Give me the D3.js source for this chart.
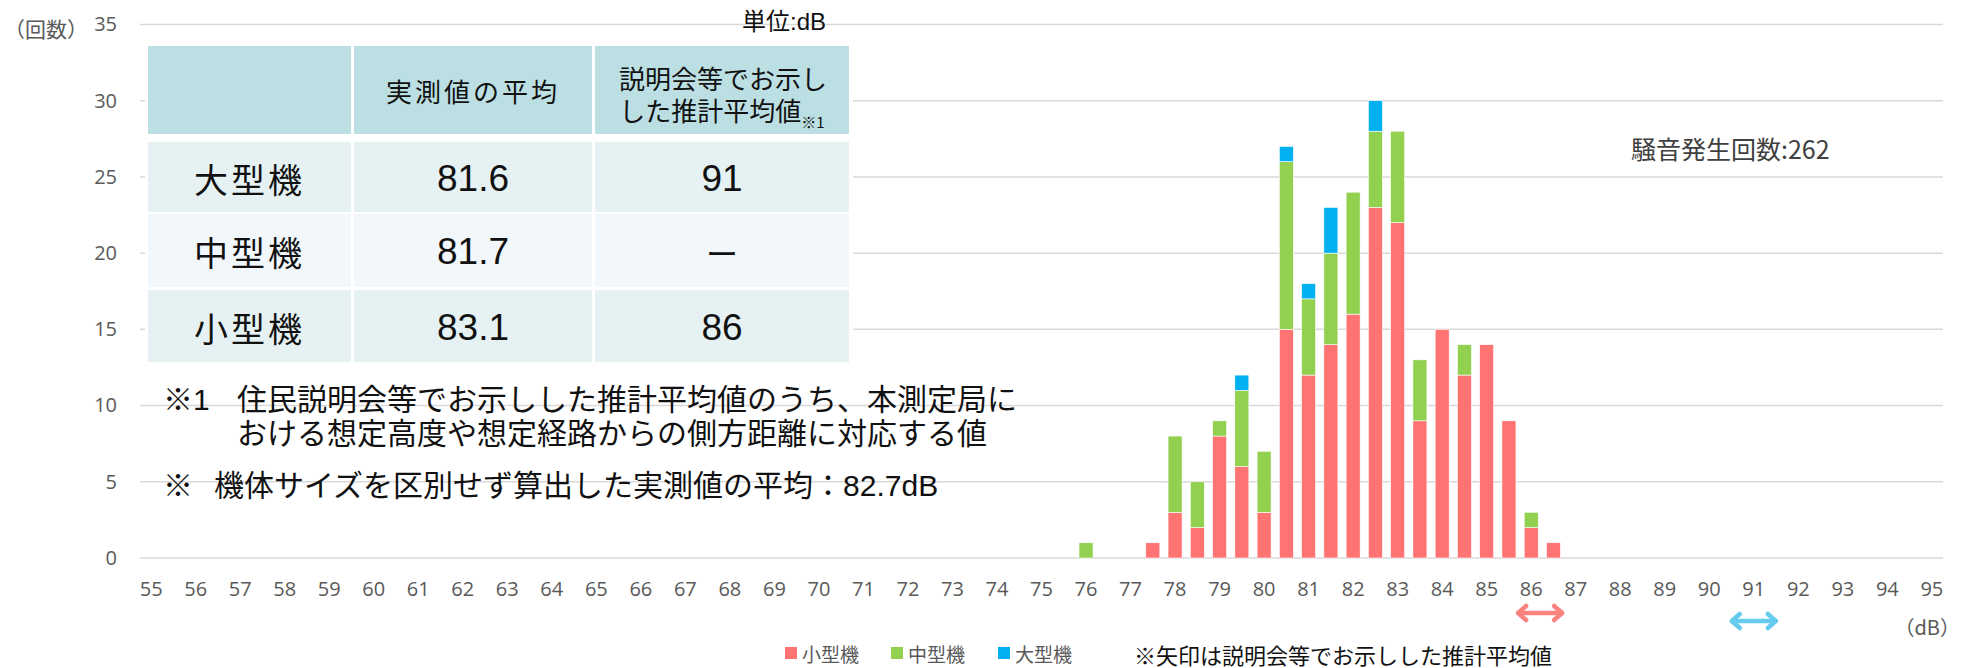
<!DOCTYPE html>
<html>
<head>
<meta charset="utf-8">
<script src="https://cdn.jsdelivr.net/npm/d3@7"></script>
<style>
  body { margin: 0; background: #fff; }
  text { font-family: "Noto Sans CJK JP", "Noto Sans", sans-serif; }
  .note { font-family: "Liberation Sans", "Noto Sans CJK JP", sans-serif; }
</style>
</head>
<body>
<div id="chart"></div>
<script>
// 騒音レベル(dB)の階級 0.5dB 刻み, 値がある範囲のみ
const bins   = [76, 76.5, 77, 77.5, 78, 78.5, 79, 79.5, 80, 80.5, 81, 81.5, 82, 82.5, 83, 83.5, 84, 84.5, 85, 85.5, 86, 86.5]
const small  = [0, 0, 0, 1, 3, 2, 8, 6, 3, 15, 12, 14, 16, 23, 22, 9, 15, 12, 14, 9, 2, 1]
const medium = [1, 0, 0, 0, 5, 3, 1, 5, 4, 11, 5, 6, 8, 5, 6, 4, 0, 2, 0, 0, 1, 0]
const large  = [0, 0, 0, 0, 0, 0, 0, 1, 0, 1, 1, 3, 0, 2, 0, 0, 0, 0, 0, 0, 0, 0]

const seriesNames = ["小型機", "中型機", "大型機"]
const seriesKeys = ["small", "medium", "large"]
const colors = ["#FF7373", "#92D050", "#00B0F0"]

const yTicks = [0, 5, 10, 15, 20, 25, 30, 35]

// table
const tableHeader = ["", "実測値の平均", ["説明会等でお示し", "した推計平均値"]]
const tableRows = ["大型機", "中型機", "小型機"]
const measuredAvg = ["81.6", "81.7", "83.1"]
const estimatedAvg = ["91", "ー", "86"]

// 説明会等でお示しした推計平均値 (矢印)
const arrowValues = [86.2, 91]
const arrowColors = ["#F8837F", "#66CCEE"]

const notes1 = ["住民説明会等でお示しした推計平均値のうち、本測定局に", "おける想定高度や想定経路からの側方距離に対応する値"]
const note2 = "機体サイズを区別せず算出した実測値の平均：82.7dB"
const totalLabel = "騒音発生回数:262"

const width = 1962, height = 668
const plot = {left: 140, right: 1943, top: 24.5, bottom: 558}

const svg = d3.select("#chart").append("svg")
    .attr("width", width).attr("height", height)
    .attr("viewBox", [0, 0, width, height])

// all x categories 55 .. 95 by 0.5
const categories = d3.range(55, 95.01, 0.5)
const data = categories.map(c => {
    const i = bins.indexOf(c)
    return {
        bin: c,
        small: i < 0 ? 0 : small[i],
        medium: i < 0 ? 0 : medium[i],
        large: i < 0 ? 0 : large[i]
    }
})

const x = d3.scaleBand()
    .domain(categories)
    .range([plot.left, plot.right])
    .paddingInner(0.37)
    .paddingOuter(0.185)

const xLin = d3.scaleLinear()
    .domain([55, 95])
    .range([x(55) + x.bandwidth() / 2, x(95) + x.bandwidth() / 2])

const y = d3.scaleLinear().domain([0, 35]).range([plot.bottom, plot.top])

const layer_grid = svg.append("g")
const layer_table = svg.append("g")
const layer_bars = svg.append("g")
const layer_text = svg.append("g")

// gridlines
layer_grid.selectAll("line")
    .data(yTicks)
    .enter()
    .append("line")
    .attr("x1", plot.left).attr("x2", plot.right)
    .attr("y1", d => y(d)).attr("y2", d => y(d))
    .attr("stroke", "#D9D9D9")
    .attr("stroke-width", 1.5)

// y axis
const yAxis = layer_grid.append("g")
    .attr("transform", `translate(${plot.left},0)`)
    .call(d3.axisLeft(y).tickValues(yTicks).tickSize(0).tickPadding(23))
yAxis.select(".domain").remove()
yAxis.selectAll("text")
    .attr("fill", "#595959")
    .style("font-size", "20px")
    .style("font-family", "'Open Sans', sans-serif")

// x axis, labels every whole dB
const xAxis = layer_grid.append("g")
    .attr("transform", `translate(0,${plot.bottom})`)
    .call(d3.axisBottom(x)
        .tickValues(categories.filter(c => Number.isInteger(c)))
        .tickSize(0).tickPadding(24))
xAxis.select(".domain").remove()
xAxis.selectAll("text")
    .attr("fill", "#595959")
    .style("font-size", "20px")
    .style("font-family", "'Open Sans', sans-serif")

layer_grid.append("text")
    .attr("x", 88).attr("y", 28)
    .attr("text-anchor", "end")
    .attr("dominant-baseline", "central")
    .attr("fill", "#595959")
    .style("font-size", "21px")
    .text("（回数）")

layer_grid.append("text")
    .attr("x", 1960).attr("y", 626)
    .attr("text-anchor", "end")
    .attr("dominant-baseline", "central")
    .attr("fill", "#595959")
    .style("font-size", "20px")
    .text("（dB）")

// stacked bars
const stacked = d3.stack().keys(seriesKeys)(data)

layer_bars.selectAll("g")
    .data(stacked)
    .enter()
    .append("g")
    .attr("fill", (d, i) => colors[i])
    .selectAll("rect")
    .data(d => d.filter(s => s[1] > s[0]))
    .enter()
    .append("rect")
    .attr("x", d => x(d.data.bin))
    .attr("width", x.bandwidth())
    .attr("y", d => y(d[1]))
    .attr("height", d => y(d[0]) - y(d[1]))
    .attr("stroke", "#fff")
    .attr("stroke-width", 0.6)

// table
const cols = [{x0: 148, x1: 351}, {x0: 354, x1: 592}, {x0: 595, x1: 849}]
const rowsY = [{y0: 46, y1: 134}, {y0: 142, y1: 212}, {y0: 214, y1: 287}, {y0: 290, y1: 362}]
const rowFill = ["#BBDFE3", "#E5F1F3", "#F1F7FA", "#E5F1F3"]

layer_table.append("rect")
    .attr("x", 145).attr("y", 42)
    .attr("width", 708).attr("height", 324)
    .attr("fill", "#fff")

rowsY.forEach((r, ri) => {
    cols.forEach(c => {
        layer_table.append("rect")
            .attr("x", c.x0).attr("y", r.y0)
            .attr("width", c.x1 - c.x0).attr("height", r.y1 - r.y0)
            .attr("fill", rowFill[ri])
    })
})

const cx = c => (c.x0 + c.x1) / 2
const cy = r => (r.y0 + r.y1) / 2

layer_table.append("text")
    .attr("x", cx(cols[1])).attr("y", cy(rowsY[0]))
    .attr("text-anchor", "middle")
    .attr("dominant-baseline", "central")
    .style("font-size", "26px")
    .style("letter-spacing", "3px")
    .attr("fill", "#111")
    .text(tableHeader[1])

const h3 = layer_table.append("text")
    .attr("text-anchor", "middle")
    .style("font-size", "26px")
    .attr("fill", "#111")
h3.append("tspan")
    .attr("x", cx(cols[2]) + 1).attr("y", 89)
    .text(tableHeader[2][0])
h3.append("tspan")
    .attr("x", cx(cols[2])).attr("y", 121)
    .text(tableHeader[2][1])
h3.append("tspan")
    .attr("dy", 7)
    .style("font-size", "15px")
    .text("※1")

tableRows.forEach((name, i) => {
    const r = rowsY[i + 1]
    layer_table.append("text")
        .attr("x", cx(cols[0])).attr("y", cy(r) + 1)
        .attr("text-anchor", "middle")
        .attr("dominant-baseline", "central")
        .style("font-size", "34px")
        .style("letter-spacing", "3px")
        .attr("fill", "#111")
        .text(name)
    layer_table.append("text")
        .attr("x", cx(cols[1])).attr("y", cy(r) + 1)
        .attr("text-anchor", "middle")
        .attr("dominant-baseline", "central")
        .style("font-size", "37px")
        .style("font-family", "'Liberation Sans', Arial, sans-serif")
        .attr("fill", "#111")
        .text(measuredAvg[i])
    layer_table.append("text")
        .attr("x", cx(cols[2])).attr("y", cy(r) + 1)
        .attr("text-anchor", "middle")
        .attr("dominant-baseline", "central")
        .style("font-size", estimatedAvg[i] === "ー" ? "32px" : "37px")
        .style("font-family", estimatedAvg[i] === "ー" ? null : "'Liberation Sans', Arial, sans-serif")
        .attr("fill", "#111")
        .text(estimatedAvg[i])
})

layer_text.append("text")
    .attr("x", 742).attr("y", 21)
    .attr("dominant-baseline", "central")
    .attr("class", "note")
    .style("font-size", "24px")
    .attr("fill", "#111")
    .text("単位:dB")

// notes
layer_text.append("text")
    .attr("x", 163).attr("y", 399)
    .attr("class", "note")
    .attr("dominant-baseline", "central")
    .style("font-size", "30px")
    .attr("fill", "#111")
    .text("※1")
notes1.forEach((t, i) => {
    layer_text.append("text")
        .attr("x", 237).attr("y", 399 + i * 34)
        .attr("class", "note")
        .attr("dominant-baseline", "central")
        .style("font-size", "30px")
        .attr("fill", "#111")
        .text(t)
})
layer_text.append("text")
    .attr("x", 163).attr("y", 485)
    .attr("class", "note")
    .attr("dominant-baseline", "central")
    .style("font-size", "30px")
    .attr("fill", "#111")
    .text("※")
layer_text.append("text")
    .attr("x", 214).attr("y", 485)
    .attr("class", "note")
    .attr("dominant-baseline", "central")
    .style("font-size", "30px")
    .attr("fill", "#111")
    .text(note2)

layer_text.append("text")
    .attr("x", 1631).attr("y", 148)
    .attr("dominant-baseline", "central")
    .style("font-size", "25px")
    .attr("fill", "#404040")
    .text(totalLabel)

// arrows
const arrowY = [613, 621]
arrowValues.forEach((v, i) => {
    const g = layer_text.append("g")
        .attr("stroke", arrowColors[i])
        .attr("stroke-width", 4.5)
        .attr("stroke-linecap", "round")
        .attr("stroke-linejoin", "round")
        .attr("fill", "none")
    const xc = xLin(v), yy = arrowY[i], hw = 22
    g.append("line").attr("x1", xc - hw).attr("x2", xc + hw).attr("y1", yy).attr("y2", yy)
    g.append("polyline").attr("points", [[xc - hw + 8, yy - 7], [xc - hw, yy], [xc - hw + 8, yy + 7]].join(" "))
    g.append("polyline").attr("points", [[xc + hw - 8, yy - 7], [xc + hw, yy], [xc + hw - 8, yy + 7]].join(" "))
})

// legend
const legendX = [785, 891, 998]
seriesNames.forEach((name, i) => {
    layer_text.append("rect")
        .attr("x", legendX[i]).attr("y", 647)
        .attr("width", 12).attr("height", 12)
        .attr("fill", colors[i])
    layer_text.append("text")
        .attr("x", legendX[i] + 17).attr("y", 653)
        .attr("dominant-baseline", "central")
        .style("font-size", "19px")
        .attr("fill", "#595959")
        .text(name)
})
layer_text.append("text")
    .attr("x", 1134).attr("y", 654)
    .attr("dominant-baseline", "central")
    .style("font-size", "22px")
    .attr("fill", "#111")
    .text("※矢印は説明会等でお示しした推計平均値")
</script>
</body>
</html>
